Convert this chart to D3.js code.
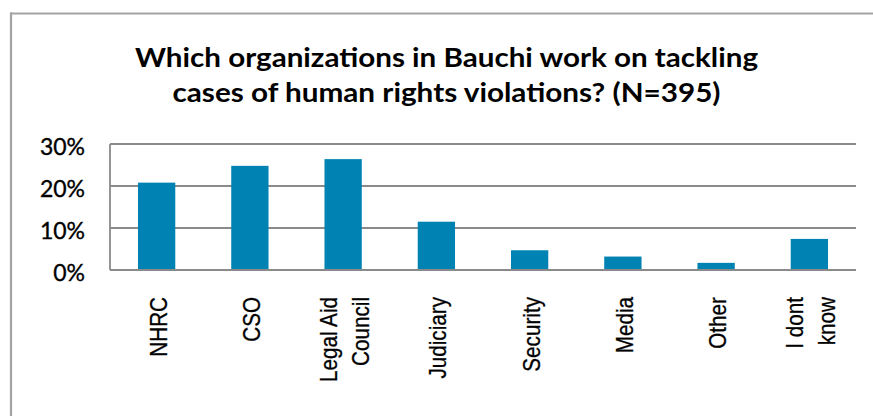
<!DOCTYPE html>
<html>
<head>
<meta charset="utf-8">
<script src="https://cdn.jsdelivr.net/npm/d3@7"></script>
<style>
  html, body { margin: 0; padding: 0; background: #fff; overflow: hidden; }
  svg { display: block; }
</style>
</head>
<body>
<div id="chart"></div>
<script>
// ---- Data ----
const categories = ["NHRC", "CSO", "Legal Aid\nCouncil", "Judiciary", "Security", "Media", "Other", "I dont\nknow"];
const values = [20.8, 24.8, 26.4, 11.5, 4.7, 3.2, 1.7, 7.4];
const tickValues = [0, 10, 20, 30];
const tickLabels = ["0%", "10%", "20%", "30%"];
const titleLines = ["Which organizations in Bauchi work on tackling", "cases of human rights violations? (N=395)"];

// ---- Layout ----
const W = 873, H = 416;
const plot = { left: 110, right: 856, top: 144, bottom: 270 };
const barColor = "#0083b3";
const gridColor = "#8a8a8a";

const svg = d3.select("#chart").append("svg")
  .attr("width", W).attr("height", H);

svg.append("rect").attr("width", W).attr("height", H).attr("fill", "#fff");

// outer chart frame: only top and left edges are visible in the picture
svg.append("line")
  .attr("x1", 10).attr("x2", W)
  .attr("y1", 13.5).attr("y2", 13.5)
  .attr("stroke", "#a3a3a3").attr("stroke-width", 2.2);
svg.append("line")
  .attr("x1", 11).attr("x2", 11)
  .attr("y1", 12.5).attr("y2", H)
  .attr("stroke", "#a3a3a3").attr("stroke-width", 2.2);

// ---- Scales ----
const x = d3.scaleBand()
  .domain(categories)
  .range([plot.left, plot.right])
  .paddingInner(0.6)
  .paddingOuter(0.3);

const y = d3.scaleLinear()
  .domain([0, 30])
  .range([plot.bottom, plot.top]);

// ---- Gridlines ----
svg.append("g").selectAll("line")
  .data(tickValues)
  .join("line")
  .attr("x1", plot.left).attr("x2", plot.right)
  .attr("y1", d => y(d)).attr("y2", d => y(d))
  .attr("stroke", gridColor)
  .attr("stroke-width", 1.8);

// left axis line
svg.append("line")
  .attr("x1", plot.left).attr("x2", plot.left)
  .attr("y1", y(30)).attr("y2", y(0))
  .attr("stroke", gridColor)
  .attr("stroke-width", 1.8);

// ---- Y tick labels ----
svg.append("g").selectAll("text")
  .data(tickValues)
  .join("text")
  .attr("x", 85)
  .attr("y", d => y(d) + 11)
  .attr("text-anchor", "end")
  .attr("font-family", "Lato, 'Open Sans', sans-serif")
  .attr("font-size", 23)
  .attr("fill", "#000")
  .attr("stroke", "#000")
  .attr("stroke-width", 0.35)
  .text((d, i) => tickLabels[i]);

// ---- Bars ----
svg.append("g").selectAll("rect")
  .data(categories.map((c, i) => ({ c, v: values[i] })))
  .join("rect")
  .attr("x", d => x(d.c))
  .attr("width", x.bandwidth())
  .attr("y", d => y(d.v))
  .attr("height", d => y(0) - y(d.v))
  .attr("fill", barColor);

// redraw baseline on top of bars
svg.append("line")
  .attr("x1", plot.left).attr("x2", plot.right)
  .attr("y1", y(0)).attr("y2", y(0))
  .attr("stroke", gridColor)
  .attr("stroke-width", 1.8);

// ---- X labels (rotated) ----
const xfs = 23.5;
const lineGap = 32;
const xl = svg.append("g").selectAll("g")
  .data(categories)
  .join("g")
  .attr("transform", d => `translate(${x(d) + x.bandwidth() / 2},297) rotate(-90) scale(0.88,1)`);

xl.append("text")
  .attr("text-anchor", "end")
  .attr("font-family", "'Liberation Sans', Arial, sans-serif")
  .attr("font-size", xfs)
  .attr("fill", "#000")
  .attr("stroke", "#000")
  .attr("stroke-width", 0.3)
  .each(function(d) {
    const lines = d.split("\n");
    const n = lines.length;
    const t = d3.select(this);
    lines.forEach((ln, i) => {
      const off = (i - (n - 1) / 2) * lineGap + 1.5;
      t.append("tspan")
        .attr("x", 0)
        .attr("y", off + 0.36 * xfs)
        .text(ln);
    });
  });

// ---- Title ----
const titleWidths = [623, 548];
const titleBaselines = [67, 101.5];
svg.append("g").selectAll("text")
  .data(titleLines)
  .join("text")
  .attr("x", 446.5)
  .attr("y", (d, i) => titleBaselines[i])
  .attr("text-anchor", "middle")
  .attr("font-family", "Lato, 'Open Sans', sans-serif")
  .attr("font-weight", 700)
  .attr("font-size", 27)
  .attr("fill", "#000")
  .text(d => d)
  .each(function(d, i) {
    const len = this.getComputedTextLength();
    if (Math.abs(len - titleWidths[i]) > 2) {
      d3.select(this)
        .attr("textLength", titleWidths[i])
        .attr("lengthAdjust", "spacingAndGlyphs");
    }
  });
</script>
</body>
</html>
